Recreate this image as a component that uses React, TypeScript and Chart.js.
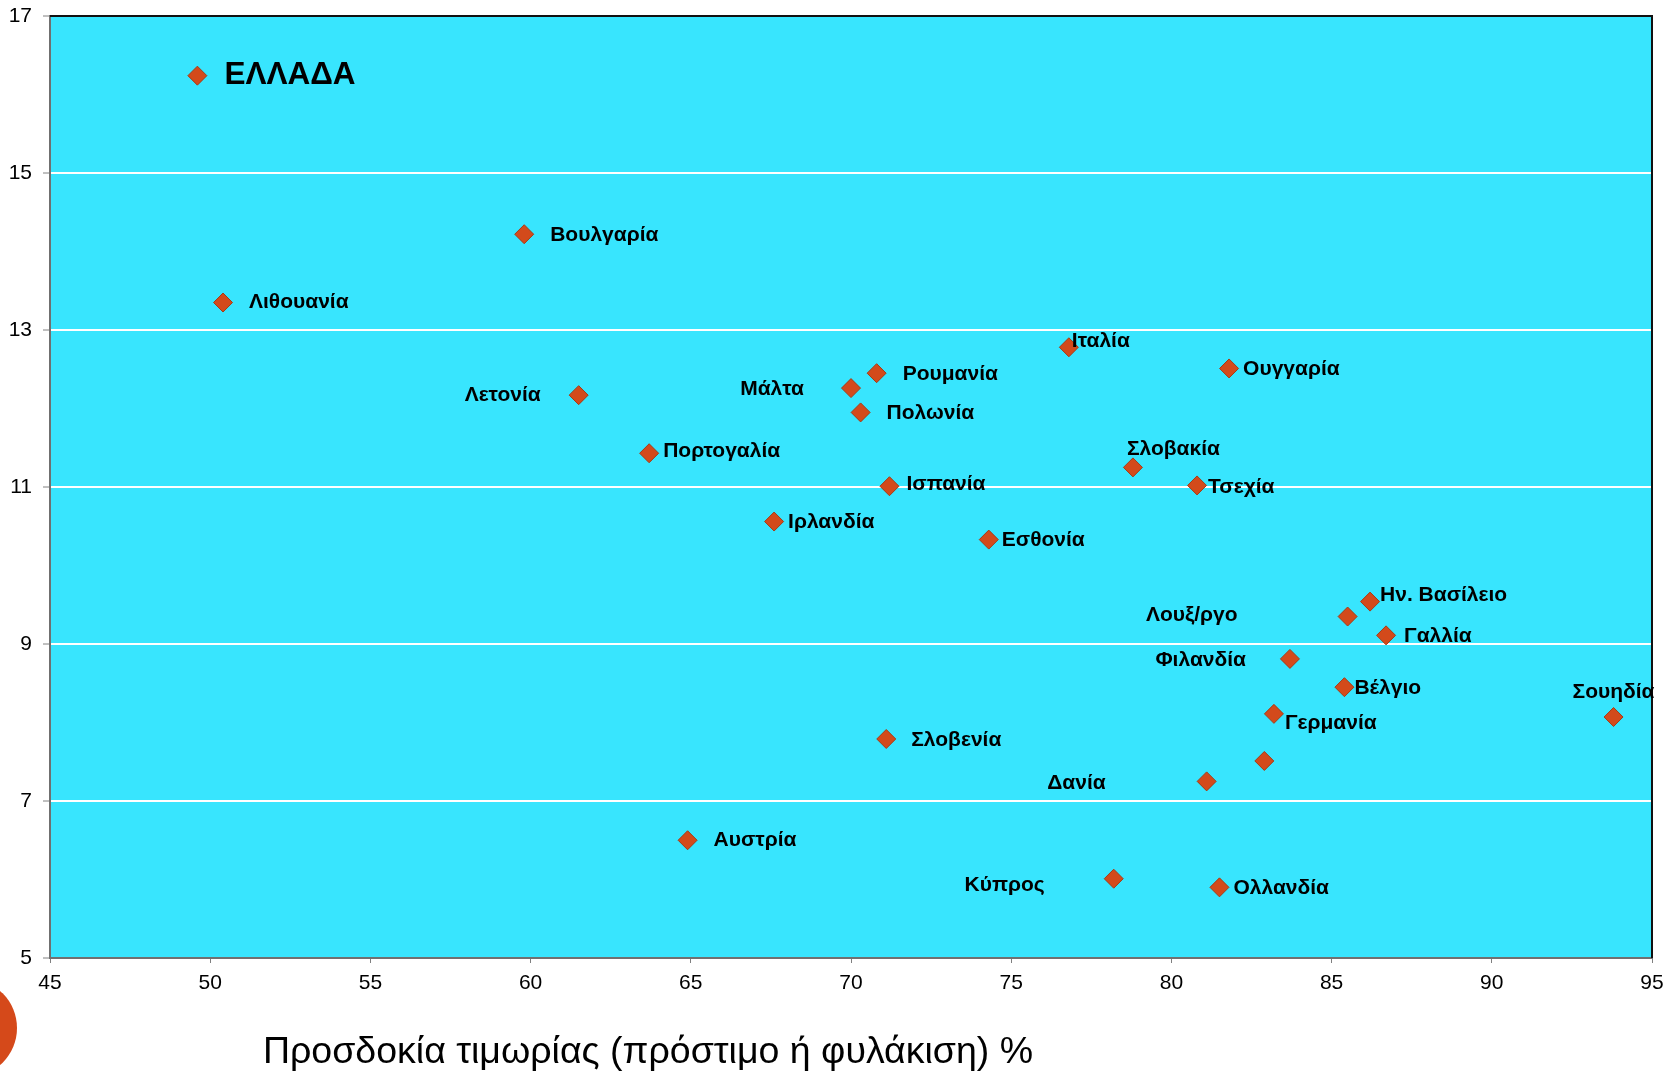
import React, { useEffect, useRef } from "react";
import { Chart, registerables } from "chart.js";

Chart.register(...registerables);

// ---- Data ----
const countries: string[] = [
  "ΕΛΛΑΔΑ", "Βουλγαρία", "Λιθουανία", "Ιταλία", "Ουγγαρία", "Ρουμανία", "Μάλτα",
  "Λετονία", "Πολωνία", "Πορτογαλία", "Σλοβακία", "Ισπανία", "Τσεχία", "Ιρλανδία",
  "Εσθονία", "Ην. Βασίλειο", "Λουξ/ργο", "Γαλλία", "Φιλανδία", "Βέλγιο", "Σουηδία",
  "Γερμανία", "", "Δανία", "Σλοβενία", "Αυστρία", "Κύπρος", "Ολλανδία",
];
const punishmentExpectation: number[] = [
  49.6, 59.8, 50.4, 76.8, 81.8, 70.8, 70.0,
  61.5, 70.3, 63.7, 78.8, 71.2, 80.8, 67.6,
  74.3, 86.2, 85.5, 86.7, 83.7, 85.4, 93.8,
  83.2, 82.9, 81.1, 71.1, 64.9, 78.2, 81.5,
];
const yValues: number[] = [
  16.24, 14.22, 13.35, 12.78, 12.51, 12.45, 12.26,
  12.17, 11.95, 11.43, 11.25, 11.01, 11.02, 10.56,
  10.33, 9.54, 9.35, 9.11, 8.81, 8.45, 8.07,
  8.11, 7.51, 7.25, 7.79, 6.5, 6.01, 5.9,
];
const xTickStep = 5;
const yTickStep = 2;
const xAxisTitle = "Προσδοκία τιμωρίας (πρόστιμο ή φυλάκιση) %";

// ---- Label placement (layout only): [dx, dy, align] relative to marker ----
const labelPlacement: [number, number, CanvasTextAlign][] = [
  [27, 0, "left"], [26, 1, "left"], [26, 0, "left"], [3, -6, "left"], [14, 1, "left"],
  [26, 1, "left"], [-47, 1, "right"], [-38, 0, "right"], [26, 1, "left"], [14, -2, "left"],
  [-6, -18, "left"], [17, -2, "left"], [11, 2, "left"], [14, 1, "left"], [13, 1, "left"],
  [10, -6, "left"], [-110, -1, "right"], [18, 1, "left"], [-44, 1, "right"], [10, 1, "left"],
  [-41, -25, "left"], [11, 9, "left"], [0, 0, "left"], [-101, 2, "right"], [25, 1, "left"],
  [26, 0, "left"], [-69, 6, "right"], [14, 1, "left"],
];

const FONT = 'Arial, "Liberation Sans", Helvetica, sans-serif';
const W = 1674;
const H = 1071;

const decoPlugin = {
  id: "deco",
  beforeDraw(chart: any) {
    const { ctx, chartArea: a } = chart;
    ctx.save();
    ctx.fillStyle = "#38E5FE";
    ctx.fillRect(a.left, a.top, a.right - a.left, a.bottom - a.top);
    ctx.restore();
  },
  afterDraw(chart: any) {
    const { ctx, chartArea: a } = chart;
    ctx.save();
    // top and right border
    ctx.strokeStyle = "#111";
    ctx.lineWidth = 2;
    ctx.beginPath();
    ctx.moveTo(a.left, a.top);
    ctx.lineTo(a.right, a.top);
    ctx.lineTo(a.right, a.bottom);
    ctx.stroke();

    // labels
    const meta = chart.getDatasetMeta(0);
    ctx.fillStyle = "#000";
    ctx.textBaseline = "middle";
    meta.data.forEach((pt: any, i: number) => {
      const name = countries[i];
      if (!name) return;
      const [dx, dy, align] = labelPlacement[i];
      ctx.font = i === 0 ? `bold 31.5px ${FONT}` : `bold 21px ${FONT}`;
      ctx.textAlign = align;
      ctx.fillText(name, pt.x + dx, pt.y + dy);
    });

    // axis title
    ctx.font = `37.5px ${FONT}`;
    ctx.textAlign = "center";
    ctx.textBaseline = "alphabetic";
    ctx.fillStyle = "#000";
    ctx.fillText(xAxisTitle, 648, 1063);

    // decorative circle
    ctx.fillStyle = "#D5491A";
    ctx.beginPath();
    ctx.arc(-32, 1028, 49, 0, Math.PI * 2);
    ctx.fill();
    ctx.restore();
  },
};

export default function App() {
  const ref = useRef<HTMLCanvasElement | null>(null);
  useEffect(() => {
    if (!ref.current) return;
    const chart = new Chart(ref.current, {
      type: "scatter",
      data: {
        datasets: [
          {
            data: punishmentExpectation.map((x, i) => ({ x, y: yValues[i] })),
            pointStyle: "rectRot",
            pointRadius: 9.5,
            pointHoverRadius: 9.5,
            backgroundColor: "#D34A1B",
            borderColor: "#A83A13",
            borderWidth: 1,
            clip: false,
          } as any,
        ],
      },
      options: {
        animation: false,
        responsive: false,
        devicePixelRatio: 1,
        layout: { padding: { top: 16, right: 22, left: 0, bottom: 0 } },
        plugins: { legend: { display: false }, tooltip: { enabled: false }, title: { display: false } },
        scales: {
          x: {
            type: "linear",
            min: 45,
            max: 95,
            afterFit: (s: any) => { s.height = H - 958; s.paddingLeft = 0; s.paddingRight = 0; },
            ticks: { stepSize: xTickStep, color: "#000", font: { family: FONT, size: 21 }, padding: 8, maxRotation: 0 },
            grid: { drawOnChartArea: false, drawTicks: true, tickLength: 5, color: "#808080", tickColor: "#808080" },
            border: { color: "#707070", width: 2 },
          },
          y: {
            type: "linear",
            min: 5,
            max: 17,
            afterFit: (s: any) => { s.width = 50; s.paddingTop = 0; s.paddingBottom = 0; },
            ticks: { stepSize: yTickStep, color: "#000", font: { family: FONT, size: 21 }, padding: 11 },
            grid: {
              color: (c: any) => (c.tick && (c.tick.value === 5 || c.tick.value === 17) ? "rgba(0,0,0,0)" : "#ffffff"),
              lineWidth: 2,
              tickColor: "#808080",
              tickWidth: 1,
              tickLength: 7,
            },
            border: { color: "#707070", width: 2 },
          },
        },
      } as any,
      plugins: [decoPlugin],
    });
    return () => chart.destroy();
  }, []);

  return (
    <div style={{ position: "absolute", left: 0, top: 0, width: W, height: H, background: "#fff" }}>
      <canvas ref={ref} width={W} height={H} style={{ width: W, height: H, display: "block" }} />
    </div>
  );
}
